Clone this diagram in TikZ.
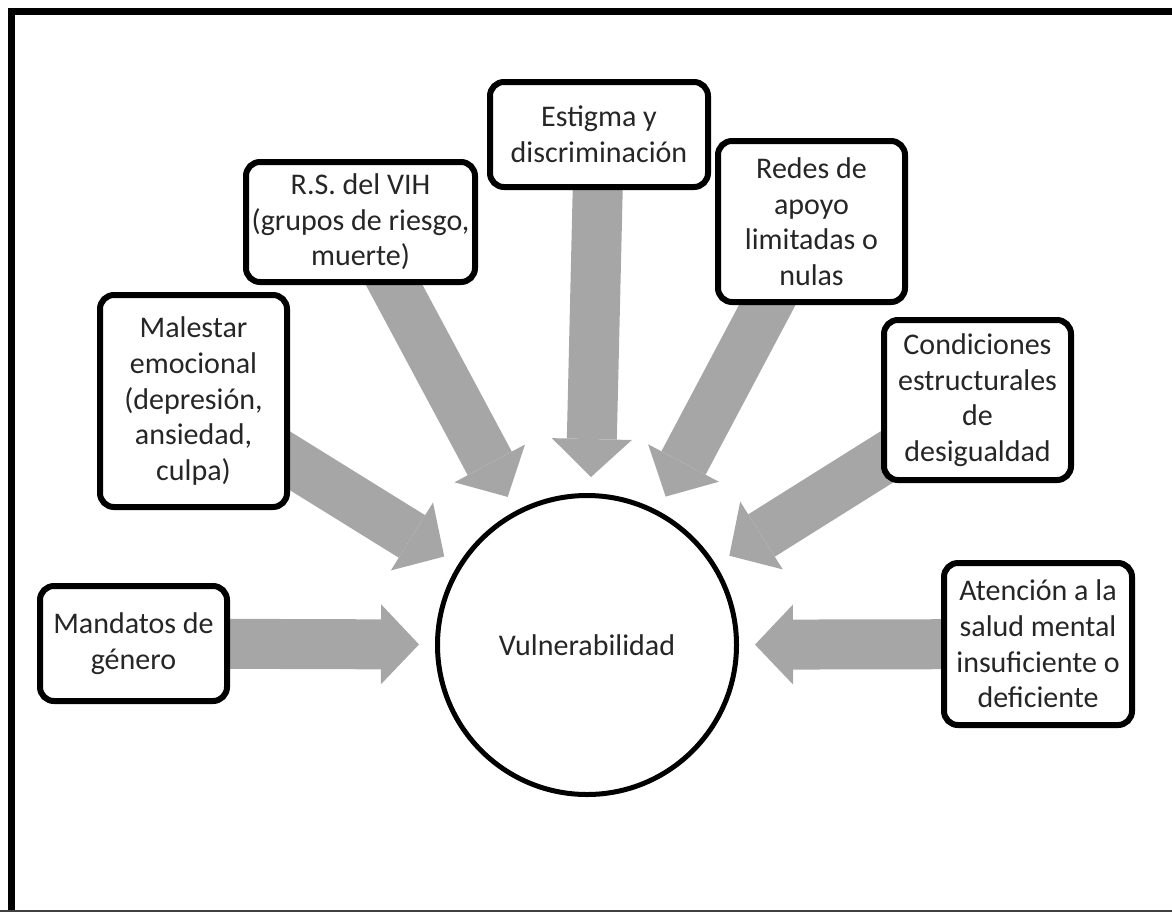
\documentclass[tikz,border=0pt]{standalone}
\usepackage{fontspec}
\setmainfont{Carlito}
\usetikzlibrary{arrows.meta,backgrounds}
\definecolor{flechagris}{RGB}{166,166,166}
\definecolor{textogris}{RGB}{38,38,38}
\begin{document}
\begin{tikzpicture}[x=0.5pt,y=-0.5pt,font=\fontsize{15}{17.8}\selectfont,
    caja/.style={draw,line width=3pt,rounded corners=7pt,fill=white,align=center,text=textogris,inner sep=1pt},
    flecha/.style={draw=flechagris,line width=25pt,-{Triangle[length=19pt,width=40pt,line width=0pt]},shorten >=8pt}]
    \useasboundingbox(0,0)rectangle(1172,911);
    % marco
    \draw[line width=3.5pt](1172,11.5)--(11,11.5)--(11,911);
    \draw[line width=1pt,black!75](0,910.5)--(1172,910.5);
    % centro
    \node[circle,draw,line width=2.5pt,fill=white,minimum size=149.5pt,text=textogris](vuln)at(587,645){Vulnerabilidad};
    % cajas
    \node[caja,minimum width=93.5pt,minimum height=57.5pt](mandatos)at(133.5,643.5){Mandatos de\\género};
    \node[caja,minimum width=93.5pt,minimum height=106pt](malestar)at(193.5,401){Malestar\\emocional\\(depresión,\\ansiedad,\\culpa)};
    \node[caja,minimum width=114.5pt,minimum height=60pt](rs)at(360.5,222){R.S. del VIH\\(grupos de riesgo,\\muerte)};
    \node[caja,minimum width=109pt,minimum height=52.5pt](estigma)at(599,134.5){Estigma y\\discriminación};
    \node[caja,minimum width=93.5pt,minimum height=80.5pt](redes)at(811.5,221.5){Redes de\\apoyo\\limitadas o\\nulas};
    \node[caja,minimum width=93.5pt,minimum height=80pt](condiciones)at(977.5,400){Condiciones\\estructurales\\de\\desigualdad};
    \node[caja,minimum width=94pt,minimum height=81pt](atencion)at(1038,644){Atención a la\\salud mental\\insuficiente o\\deficiente};
    % flechas
    \begin{scope}[on background layer]
        \foreach \n in {mandatos,malestar,rs,estigma,redes,condiciones,atencion}
        \draw[flecha](\n.center)--(vuln);
    \end{scope}
\end{tikzpicture}
\end{document}
